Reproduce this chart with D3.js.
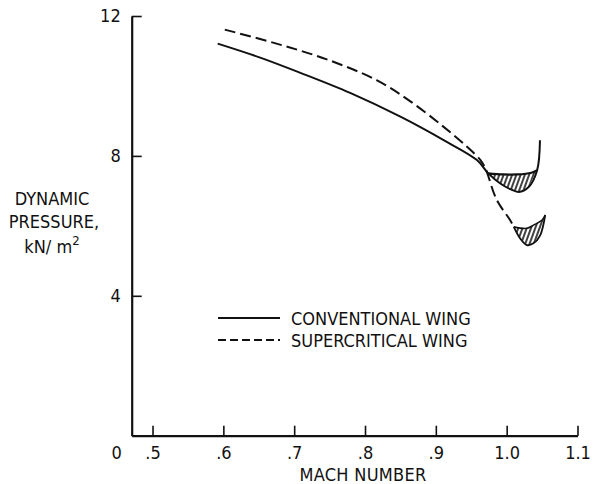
<!DOCTYPE html>
<html><head><meta charset="utf-8">
<script src="https://cdn.jsdelivr.net/npm/d3@7"></script>
<style>
body{margin:0;background:#fff;}
svg text{font-family:"DejaVu Sans Condensed","Liberation Sans Narrow",sans-serif;fill:#111;}
</style></head><body>
<svg id="c" width="598" height="484"></svg>
<script>
// ---- data ----
const xTicks = [0.5, 0.6, 0.7, 0.8, 0.9, 1.0, 1.1];
const xTickLabels = [".5", ".6", ".7", ".8", ".9", "1.0", "1.1"];
const yTicks = [4, 8, 12];
const yTickLabels = ["4", "8", "12"];
const seriesNames = ["CONVENTIONAL WING", "SUPERCRITICAL WING"];

// conventional wing (solid): main curve incl. lower edge of buffet band
const convMach = [0.592, 0.652, 0.708, 0.779, 0.850, 0.911, 0.958, 0.974, 0.991, 1.005, 1.017, 1.031, 1.043, 1.047];
const convQ    = [11.21, 10.81, 10.38, 9.80, 9.12, 8.45, 7.88, 7.50, 7.21, 7.05, 6.97, 7.11, 7.59, 8.45];
// upper edge of the conventional hatched band
const convBandMach = [0.974, 0.995, 1.015, 1.035, 1.043];
const convBandQ    = [7.50, 7.47, 7.47, 7.52, 7.59];

// supercritical wing (dashed)
const supMach = [0.602, 0.675, 0.746, 0.817, 0.864, 0.911, 0.944, 0.963, 0.970, 0.986, 1.005, 1.010];
const supQ    = [11.61, 11.21, 10.76, 10.16, 9.56, 8.83, 8.26, 7.88, 7.64, 6.74, 6.16, 5.97];
// supercritical hatched region: upper and lower edges
const supBandUpperMach = [1.010, 1.0285, 1.0378, 1.0497, 1.0544];
const supBandUpperQ    = [5.97, 5.93, 6.02, 6.16, 6.31];
const supBandLowerMach = [1.010, 1.019, 1.0285, 1.0378, 1.0473, 1.0544];
const supBandLowerQ    = [5.97, 5.64, 5.45, 5.50, 5.73, 6.31];

// ---- chart ----
const svg = d3.select("#c");
const x = d3.scaleLinear().domain([0.4706, 1.1]).range([131.7, 577.5]);
const y = d3.scaleLinear().domain([0, 12]).range([435.7, 16]);
const ink = "#111";
const FS = 18;

const defs = svg.append("defs");
const pat = defs.append("pattern").attr("id", "hatch")
  .attr("patternUnits", "userSpaceOnUse").attr("width", 4).attr("height", 4)
  .attr("patternTransform", "rotate(20)");
pat.append("line").attr("x1", 1).attr("y1", 0).attr("x2", 1).attr("y2", 4)
  .attr("stroke", ink).attr("stroke-width", 1.6);

// axes
const xAxis = d3.axisBottom(x).tickValues(xTicks)
  .tickFormat((d, i) => xTickLabels[i]).tickSizeInner(-10).tickSizeOuter(0).tickPadding(11);
const yAxis = d3.axisLeft(y).tickValues(yTicks)
  .tickFormat((d, i) => yTickLabels[i]).tickSizeInner(-10).tickSizeOuter(0).tickPadding(11);

const gx = svg.append("g").attr("transform", `translate(0,${y(0)})`).call(xAxis);
const gy = svg.append("g").attr("transform", `translate(${x.range()[0]},0)`).call(yAxis);
[gx, gy].forEach(g => {
  g.select(".domain").attr("stroke", ink).attr("stroke-width", 2.2);
  g.selectAll(".tick line").attr("stroke", ink).attr("stroke-width", 1.6);
  g.selectAll(".tick text").attr("font-size", FS).attr("fill", ink)
    .style("font-family", '"DejaVu Sans Condensed",sans-serif');
});
// zero label sits in x-label row
svg.append("text").attr("x", x.range()[0] - 15).attr("y", y(0) + 11).attr("dy", "0.71em")
  .attr("text-anchor", "middle").attr("font-size", FS).text("0");

// axis titles
svg.append("text").attr("x", 363).attr("y", 481)
  .attr("text-anchor", "middle").attr("font-size", FS).attr("letter-spacing", 0.3).text("MACH NUMBER");
const yt = svg.append("text").attr("text-anchor", "middle").attr("font-size", FS);
yt.append("tspan").attr("x", 52).attr("y", 205).text("DYNAMIC");
yt.append("tspan").attr("x", 54).attr("y", 228).text("PRESSURE,");
const t3 = svg.append("text").attr("x", 52).attr("y", 253).attr("text-anchor", "middle")
  .attr("font-size", FS);
t3.append("tspan").text("kN/ m");
t3.append("tspan").attr("dy", -8).attr("font-size", 13).text("2");

// helpers
const pts = (ms, qs) => ms.map((m, i) => [m, qs[i]]);
const line = d3.line().x(d => x(d[0])).y(d => y(d[1])).curve(d3.curveCatmullRom.alpha(0.5));
const poly = d3.line().x(d => x(d[0])).y(d => y(d[1])).curve(d3.curveLinear);

// conventional hatched band
const convLowerSeg = pts(convMach, convQ).filter(d => d[0] >= 0.974 && d[0] <= 1.043);
const convBandPoly = pts(convBandMach, convBandQ).concat(convLowerSeg.slice().reverse());
svg.append("path").attr("d", poly(convBandPoly) + "Z").attr("fill", "url(#hatch)").attr("stroke", "none");
svg.append("path").attr("d", line(pts(convBandMach, convBandQ)))
  .attr("fill", "none").attr("stroke", ink).attr("stroke-width", 2.2);

// supercritical hatched region
const supPoly = pts(supBandUpperMach, supBandUpperQ).concat(pts(supBandLowerMach, supBandLowerQ).reverse());
svg.append("path").attr("d", poly(supPoly) + "Z").attr("fill", "url(#hatch)").attr("stroke", "none");
svg.append("path").attr("d", line(pts(supBandUpperMach, supBandUpperQ)))
  .attr("fill", "none").attr("stroke", ink).attr("stroke-width", 1.6);
svg.append("path").attr("d", line(pts(supBandLowerMach, supBandLowerQ)))
  .attr("fill", "none").attr("stroke", ink).attr("stroke-width", 1.8);

// main curves
svg.append("path").attr("d", line(pts(convMach, convQ)))
  .attr("fill", "none").attr("stroke", ink).attr("stroke-width", 2);
svg.append("path").attr("d", line(pts(supMach, supQ)))
  .attr("fill", "none").attr("stroke", ink).attr("stroke-width", 2).attr("stroke-dasharray", "11,5");

// legend
const lg = svg.append("g");
seriesNames.forEach((name, i) => {
  const ly = 318 + i * 22;
  lg.append("line").attr("x1", 218).attr("x2", 280).attr("y1", ly).attr("y2", ly)
    .attr("stroke", ink).attr("stroke-width", 2)
    .attr("stroke-dasharray", i === 1 ? "8,4" : null);
  lg.append("text").attr("x", 291).attr("y", ly + 7).attr("font-size", FS).text(name);
});
</script></body></html>
